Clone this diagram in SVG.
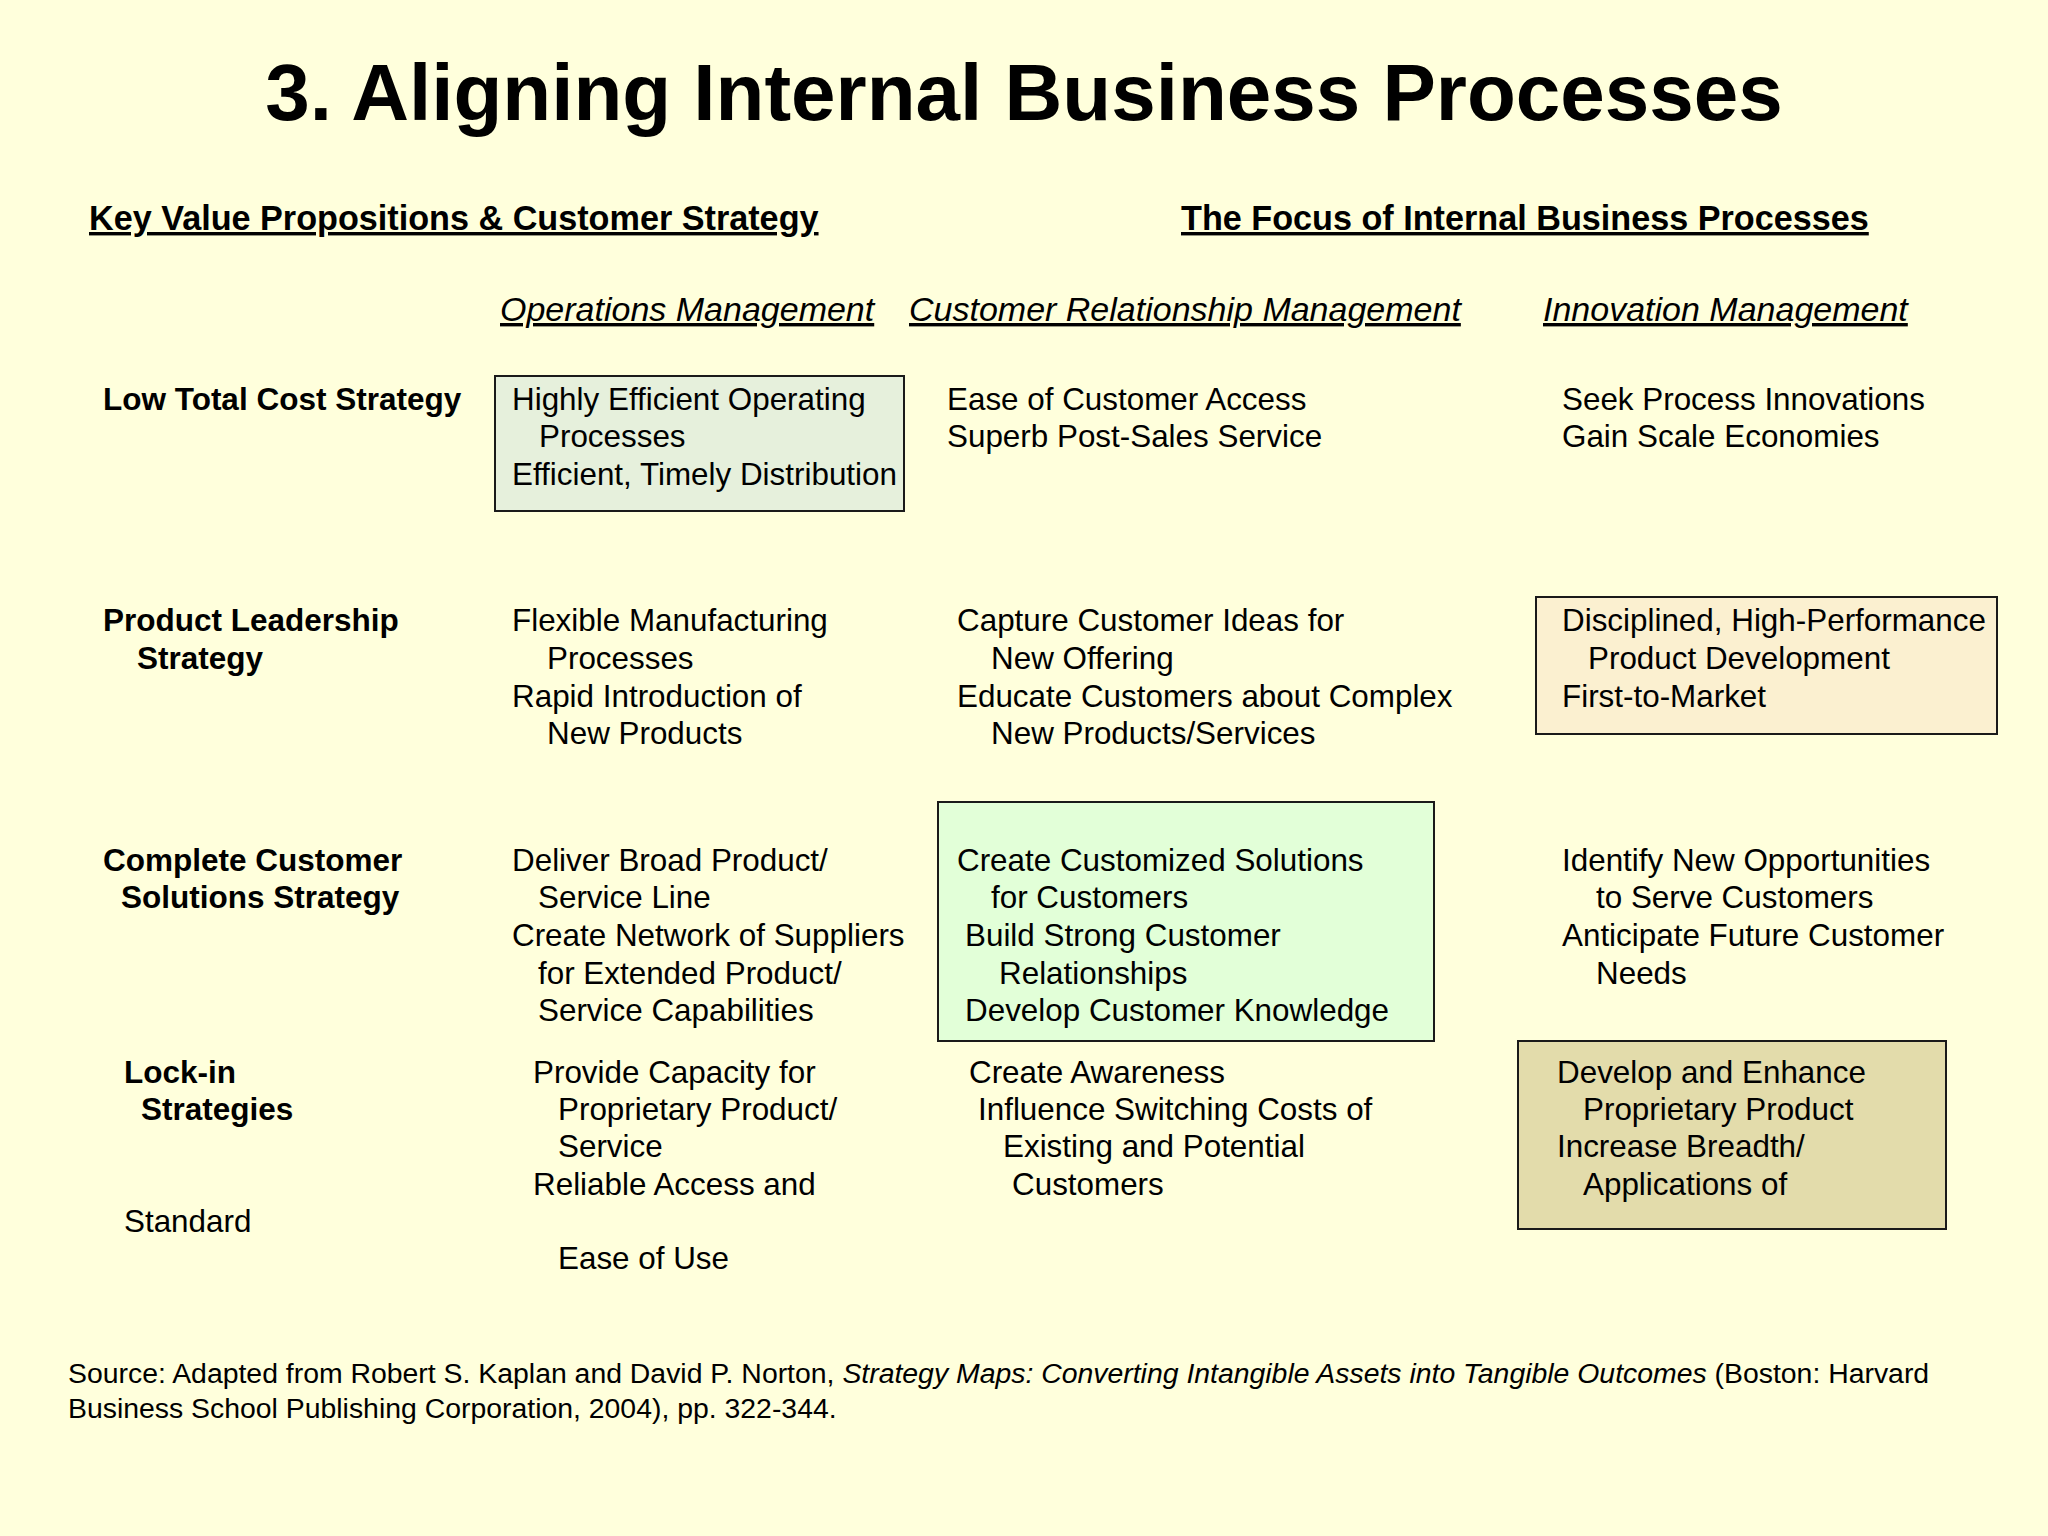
<svg xmlns="http://www.w3.org/2000/svg" width="2048" height="1536" viewBox="0 0 2048 1536">
<style>
text{font-family:"Liberation Sans",Arial,sans-serif;fill:#000}
.title{font-size:80px;font-weight:bold}
.head{font-size:34.2px;font-weight:bold;text-decoration:underline}
.col{font-size:34px;font-style:italic;text-decoration:underline}
.lbl{font-size:31.5px;font-weight:bold}
.b{font-size:31.4px}
.src{font-size:28.4px}
.box{stroke:#1a1a1a;stroke-width:2}
</style>
<rect x="0" y="0" width="2048" height="1536" fill="#FFFFDC"/>
<text class="title" x="1024" y="120" text-anchor="middle">3. Aligning Internal Business Processes</text>
<text class="head" x="89" y="230">Key Value Propositions &amp; Customer Strategy</text>
<text class="head" x="1181" y="230">The Focus of Internal Business Processes</text>
<text class="col" x="500" y="321">Operations Management</text>
<text class="col" x="909" y="321">Customer Relationship Management</text>
<text class="col" x="1543" y="321">Innovation Management</text>

<g id="row-low-cost">
<text class="lbl" x="103" y="410">Low Total Cost Strategy</text>
<g id="low-ops">
<rect class="box" x="495" y="376" width="409" height="135" fill="#E6F0DC"/>
<text class="b" x="512" y="410">Highly Efficient Operating</text>
<text class="b" x="539" y="447">Processes</text>
<text class="b" x="512" y="485">Efficient, Timely Distribution</text>
</g>
<g id="low-crm">
<text class="b" x="947" y="410">Ease of Customer Access</text>
<text class="b" x="947" y="447">Superb Post-Sales Service</text>
</g>
<g id="low-inn">
<text class="b" x="1562" y="410">Seek Process Innovations</text>
<text class="b" x="1562" y="447">Gain Scale Economies</text>
</g>
</g>

<g id="row-product">
<text class="lbl" x="103" y="631">Product Leadership</text>
<text class="lbl" x="137" y="669">Strategy</text>
<g id="prod-ops">
<text class="b" x="512" y="631">Flexible Manufacturing</text>
<text class="b" x="547" y="669">Processes</text>
<text class="b" x="512" y="707">Rapid Introduction of</text>
<text class="b" x="547" y="744">New Products</text>
</g>
<g id="prod-crm">
<text class="b" x="957" y="631">Capture Customer Ideas for</text>
<text class="b" x="991" y="669">New Offering</text>
<text class="b" x="957" y="707">Educate Customers about Complex</text>
<text class="b" x="991" y="744">New Products/Services</text>
</g>
<g id="prod-inn">
<rect class="box" x="1536" y="597" width="461" height="137" fill="#FBF0D0"/>
<text class="b" x="1562" y="631">Disciplined, High-Performance</text>
<text class="b" x="1588" y="669">Product Development</text>
<text class="b" x="1562" y="707">First-to-Market</text>
</g>
</g>

<g id="row-solutions">
<text class="lbl" x="103" y="871">Complete Customer</text>
<text class="lbl" x="121" y="908">Solutions Strategy</text>
<g id="sol-ops">
<text class="b" x="512" y="871">Deliver Broad Product/</text>
<text class="b" x="538" y="908">Service Line</text>
<text class="b" x="512" y="946">Create Network of Suppliers</text>
<text class="b" x="538" y="984">for Extended Product/</text>
<text class="b" x="538" y="1021">Service Capabilities</text>
</g>
<g id="sol-crm">
<rect class="box" x="938" y="802" width="496" height="239" fill="#E2FFD8"/>
<text class="b" x="957" y="871">Create Customized Solutions</text>
<text class="b" x="991" y="908">for Customers</text>
<text class="b" x="965" y="946">Build Strong Customer</text>
<text class="b" x="999" y="984">Relationships</text>
<text class="b" x="965" y="1021">Develop Customer Knowledge</text>
</g>
<g id="sol-inn">
<text class="b" x="1562" y="871">Identify New Opportunities</text>
<text class="b" x="1596" y="908">to Serve Customers</text>
<text class="b" x="1562" y="946">Anticipate Future Customer</text>
<text class="b" x="1596" y="984">Needs</text>
</g>
</g>

<g id="row-lockin">
<text class="lbl" x="124" y="1083">Lock-in</text>
<text class="lbl" x="141" y="1120">Strategies</text>
<text class="b" x="124" y="1232">Standard</text>
<g id="lock-ops">
<text class="b" x="533" y="1083">Provide Capacity for</text>
<text class="b" x="558" y="1120">Proprietary Product/</text>
<text class="b" x="558" y="1157">Service</text>
<text class="b" x="533" y="1195">Reliable Access and</text>
<text class="b" x="558" y="1269">Ease of Use</text>
</g>
<g id="lock-crm">
<text class="b" x="969" y="1083">Create Awareness</text>
<text class="b" x="978" y="1120">Influence Switching Costs of</text>
<text class="b" x="1003" y="1157">Existing and Potential</text>
<text class="b" x="1012" y="1195">Customers</text>
</g>
<g id="lock-inn">
<rect class="box" x="1518" y="1041" width="428" height="188" fill="#E3DCAB"/>
<text class="b" x="1557" y="1083">Develop and Enhance</text>
<text class="b" x="1583" y="1120">Proprietary Product</text>
<text class="b" x="1557" y="1157">Increase Breadth/</text>
<text class="b" x="1583" y="1195">Applications of</text>
</g>
</g>

<g id="connectors"></g>

<text class="src" x="68" y="1383">Source: Adapted from Robert S. Kaplan and David P. Norton, <tspan font-style="italic">Strategy Maps: Converting Intangible Assets into Tangible Outcomes</tspan> (Boston: Harvard</text>
<text class="src" x="68" y="1418">Business School Publishing Corporation, 2004), pp. 322-344.</text>
</svg>
